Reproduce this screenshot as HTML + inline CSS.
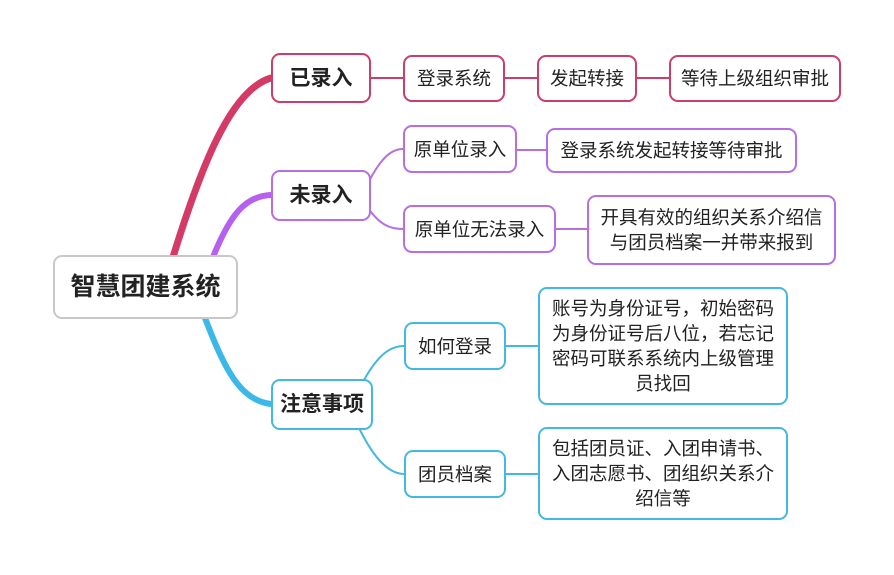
<!DOCTYPE html>
<html><head><meta charset="utf-8"><style>
body{margin:0;background:#fff;}
.w{position:relative;width:894px;height:575px;overflow:hidden;font-family:"Liberation Sans","Noto Sans CJK SC",sans-serif;color:#222;}
.n{position:absolute;box-sizing:border-box;border:2px solid;border-radius:9px;background:#fff;display:flex;align-items:center;justify-content:center;text-align:center;font-size:18.5px;line-height:25px;white-space:nowrap;}
.r{border-color:#cc3d68}.p{border-color:#b56fe0}.b{border-color:#45b8df}
.b1{font-weight:bold;font-size:21px}
svg{position:absolute;left:0;top:0}
</style></head><body><div class="w">
<svg width="894" height="575" fill="none" stroke-linecap="round">
<path d="M173 257 C200 170 230 90 271 78" stroke="#d43a66" stroke-width="7"/>
<path d="M213 257 C230 215 245 196 271 195" stroke="#b660ef" stroke-width="6"/>
<path d="M205 318 C225 370 240 400 271 404" stroke="#3bb8e8" stroke-width="6"/>
<path d="M371 78 H403 M505 78 H537 M637 78 H669" stroke="#cc3d68" stroke-width="2"/>
<path d="M368 183 C380 160 390 149 403 149 M368 208 C380 225 390 229 403 229 M517 150 H546 M556 229 H587" stroke="#b56fe0" stroke-width="2"/>
<path d="M364 380 C378 355 390 346 404 346 M360 430 C375 460 390 474 404 474 M506 346 H538 M506 474 H538" stroke="#45b8df" stroke-width="2"/>
</svg>
<div class="n" style="left:53px;top:255px;width:185px;height:64px;border-color:#c8c8c8;font-size:25px;font-weight:bold">智慧团建系统</div>
<div class="n r b1" style="left:271px;top:53px;width:100px;height:50px">已录入</div>
<div class="n p b1" style="left:271px;top:170px;width:100px;height:51px">未录入</div>
<div class="n b b1" style="left:271px;top:379px;width:102px;height:51px">注意事项</div>
<div class="n r" style="left:403px;top:55px;width:102px;height:47px">登录系统</div>
<div class="n r" style="left:537px;top:55px;width:100px;height:47px">发起转接</div>
<div class="n r" style="left:669px;top:55px;width:172px;height:47px">等待上级组织审批</div>
<div class="n p" style="left:403px;top:125px;width:114px;height:48px">原单位录入</div>
<div class="n p" style="left:546px;top:128px;width:251px;height:45px">登录系统发起转接等待审批</div>
<div class="n p" style="left:403px;top:205px;width:153px;height:48px">原单位无法录入</div>
<div class="n p" style="left:587px;top:195px;width:249px;height:70px">开具有效的组织关系介绍信<br>与团员档案一并带来报到</div>
<div class="n b" style="left:404px;top:322px;width:102px;height:48px">如何登录</div>
<div class="n b" style="left:538px;top:287px;width:250px;height:118px">账号为身份证号，初始密码<br>为身份证号后八位，若忘记<br>密码可联系系统内上级管理<br>员找回</div>
<div class="n b" style="left:404px;top:450px;width:102px;height:48px">团员档案</div>
<div class="n b" style="left:538px;top:427px;width:250px;height:93px">包括团员证、入团申请书、<br>入团志愿书、团组织关系介<br>绍信等</div>
</div></body></html>
